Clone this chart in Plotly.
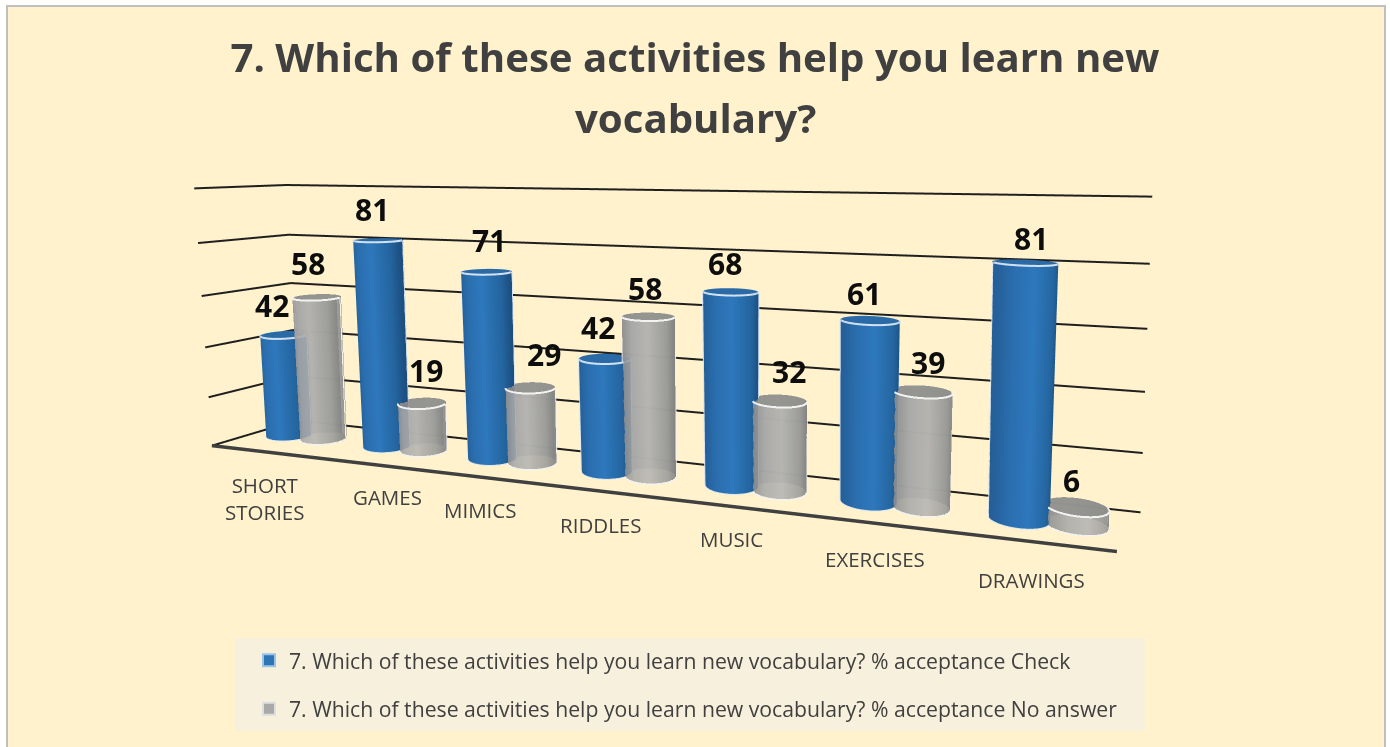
import numpy as np
import plotly.graph_objects as go

categories = ["SHORT<br>STORIES", "GAMES", "MIMICS", "RIDDLES", "MUSIC", "EXERCISES", "DRAWINGS"]
check = [42, 81, 71, 42, 68, 61, 81]
no_answer = [58, 19, 29, 58, 32, 39, 6]
ticks = [0, 20, 40, 60, 80, 100]
name_check = "7. Which of these activities help you learn new vocabulary? % acceptance Check"
name_no = "7. Which of these activities help you learn new vocabulary? % acceptance No answer"

X0, X1, YB = -0.04, 7, 1
XF0, XF1, YF0, YF1 = -0.19, 6.77, -0.6, -0.42
RX, RY = 0.2, 0.33
OFF = 0.18
SHIFT = -0.115
YC = 0.28
LEAN = 0.14
PHI = np.radians(15.4)
BLUE = [[0, "#255f98"], [0.2, "#2a6eae"], [0.5, "#2e78bd"], [0.85, "#24659f"], [1, "#1c4f80"]]
GRAY = [[0, "#8e8e8e"], [0.2, "#a8a8a8"], [0.5, "#b5b4b1"], [0.85, "#9a9a98"], [1, "#808080"]]
LABEL_DX = [-27, -3, -18, -13, -9, -4, -1]
LABEL_DY = [-12, 3, 5, 6, 9, 8, 8]
CHECK_DX = [-5, 1, 10, 0, 1, 0, 11]
CHECK_DY = [2, 1, 0, 0, -5, -8, -13]
NO_DX = [-10, 2, 10, -8, 3, -3, -15]
NO_DY = [6, 5, 4, -3, -2, -4, -6]


def lean(x, z):
    return x - LEAN * (x - 3.5) / 3 * (z - 50) / 100


fig = go.Figure()
GRID = dict(color="#1f1f1f", width=4)
for t in ticks:
    fig.add_trace(go.Scatter3d(x=[lean(XF0, t), lean(X0, t), lean(X1, t)], y=[YF0, YB, YB], z=[t, t, t], mode="lines",
                               line=GRID, showlegend=False, hoverinfo="skip"))
fig.add_trace(go.Scatter3d(x=[lean(XF0, 0), lean(XF1, 0)], y=[YF0, YF1], z=[0, 0], mode="lines",
                           line=dict(color="#404040", width=7), showlegend=False, hoverinfo="skip"))

theta = np.linspace(0, 2 * np.pi, 91)
arc = np.linspace(PHI + np.pi, PHI + 2 * np.pi, 46)


def cyl(xc, h, scale, cap, rim, opacity):
    x0, x1 = lean(xc, 0), lean(xc, h)
    ex, ey = RX * np.cos(theta), RY * np.sin(theta)
    X = np.vstack([x0 + ex, x1 + ex]); Y = np.vstack([YC + ey, YC + ey]); Z = np.vstack([0 * ex, 0 * ex + h])
    sc = np.vstack([(np.cos(theta - PHI) + 1) / 2] * 2)
    flat = dict(ambient=1, diffuse=0, specular=0, fresnel=0)
    fig.add_trace(go.Surface(x=X, y=Y, z=Z, surfacecolor=sc, colorscale=scale, cmin=0, cmax=1, showscale=False,
                             opacity=opacity, hoverinfo="skip", showlegend=False, lighting=flat))
    r = np.array([0, 1])[:, None]
    fig.add_trace(go.Surface(x=x1 + r * ex, y=YC + r * ey, z=h + 0 * r * theta,
                             surfacecolor=0 * (r * theta), colorscale=[[0, cap], [1, cap]], cmin=0, cmax=1,
                             showscale=False, opacity=opacity, hoverinfo="skip", showlegend=False, lighting=flat))
    fig.add_trace(go.Scatter3d(x=x1 + RX * np.cos(arc), y=YC + RY * np.sin(arc), z=0 * arc + h, mode="lines",
                               line=dict(color=rim, width=4), showlegend=False, hoverinfo="skip"))
    fig.add_trace(go.Scatter3d(x=x0 + RX * np.cos(arc), y=YC + RY * np.sin(arc), z=0 * arc, mode="lines",
                               line=dict(color=rim, width=3), showlegend=False, hoverinfo="skip"))
    for a in (PHI, PHI + np.pi):
        fig.add_trace(go.Scatter3d(x=[x0 + 1.02 * RX * np.cos(a), x1 + 1.02 * RX * np.cos(a)],
                                   y=[YC + 1.02 * RY * np.sin(a)] * 2, z=[0, h],
                                   mode="lines", line=dict(color=rim, width=2), showlegend=False, hoverinfo="skip"))


for i in range(len(check)):
    cyl(i + 0.5 + SHIFT - OFF, check[i], BLUE, "#2a6aa6", "#d5e3f2", 1)
for i in range(len(no_answer)):
    cyl(i + 0.5 + SHIFT + OFF, no_answer[i], GRAY, "#8f8f8d", "#f2f2f2", 0.88)

ann = []
for i, c in enumerate(categories):
    ann.append(dict(x=i + 0.5 + 0.588 - 0.128 * i, y=-1.72, z=0, text=c, showarrow=False, xanchor="center",
                    xshift=LABEL_DX[i], yshift=LABEL_DY[i],
                    font=dict(family="Open Sans", size=20.5, color="#404040")))
lab = dict(family="Open Sans", size=30, color="#0d0d0d", weight="bold")
for i in range(len(check)):
    ann.append(dict(x=lean(i + 0.5 + SHIFT - OFF, check[i]) - 0.05, y=YC, z=check[i] + 11, text=str(check[i]),
                    showarrow=False, font=lab, xshift=CHECK_DX[i], yshift=CHECK_DY[i]))
    ann.append(dict(x=lean(i + 0.5 + SHIFT + OFF, no_answer[i]) + 0.04, y=YC, z=no_answer[i] + 11, text=str(no_answer[i]),
                    showarrow=False, font=lab, xshift=NO_DX[i], yshift=NO_DY[i]))

fig.add_trace(go.Scatter3d(x=[None], y=[None], z=[None], mode="markers", name=name_check, legendgroup="a",
                           marker=dict(symbol="square", size=12, color="#2e75b6", line=dict(color="#9dc3e6", width=1))))
fig.add_trace(go.Scatter3d(x=[None], y=[None], z=[None], mode="markers", name=name_no, legendgroup="b",
                           marker=dict(symbol="square", size=12, color="#a9a9a9", line=dict(color="#dedede", width=1))))

axis = dict(visible=False, showgrid=False, zeroline=False, showbackground=False, showspikes=False)
fig.update_layout(
    width=1390, height=747, margin=dict(l=0, r=0, t=0, b=0), paper_bgcolor="#FFFFFF", autosize=False,
    title=dict(text="7. Which of these activities help you learn new", x=0.5, xanchor="center",
               y=1 - 58 / 747, yanchor="middle", font=dict(family="Open Sans", size=40.2, color="#404040", weight="bold")),
    annotations=[dict(text="vocabulary?", x=0.5, y=1 - 118 / 747, xref="paper", yref="paper", showarrow=False,
                      yanchor="middle", font=dict(family="Open Sans", size=40.2, color="#404040", weight="bold"))],
    legend=dict(x=249 / 1390, y=1 - 640 / 747, yanchor="top", xanchor="left", bgcolor="rgba(0,0,0,0)", tracegroupgap=18,
                font=dict(family="Open Sans", size=21.2, color="#404040"), itemsizing="constant"),
    scene=dict(
        domain=dict(x=[0, 1], y=[0, 1]),
        xaxis=dict(axis, range=[-1, 8]), yaxis=dict(axis, range=[-2.5, 3.5]), zaxis=dict(axis, range=[0, 100]),
        aspectmode="manual", aspectratio=dict(x=4.281, y=1.5, z=1.03),
        camera=dict(eye=dict(x=1.161, y=-2.997, z=0.648), center=dict(x=0.141, y=0.141, z=-0.162),
                    up=dict(x=-0.0088, y=-0.0029, z=1), projection=dict(type="perspective")),
        annotations=ann,
    ),
    shapes=[
        dict(type="rect", xref="paper", yref="paper", x0=7/1390, x1=1385/1390, y0=-0.02, y1=1-6/747,
             fillcolor="#FFF2CC", line=dict(color="#BFBFBF", width=2), layer="below"),
        dict(type="rect", xref="paper", yref="paper", x0=235/1390, x1=1145/1390, y0=1-731/747, y1=1-638/747,
             fillcolor="#F7F0DC", line=dict(width=0), layer="below"),
    ],
)
fig.write_html("out.html", config={"displayModeBar": False}, post_script="document.body.style.margin='0';")
